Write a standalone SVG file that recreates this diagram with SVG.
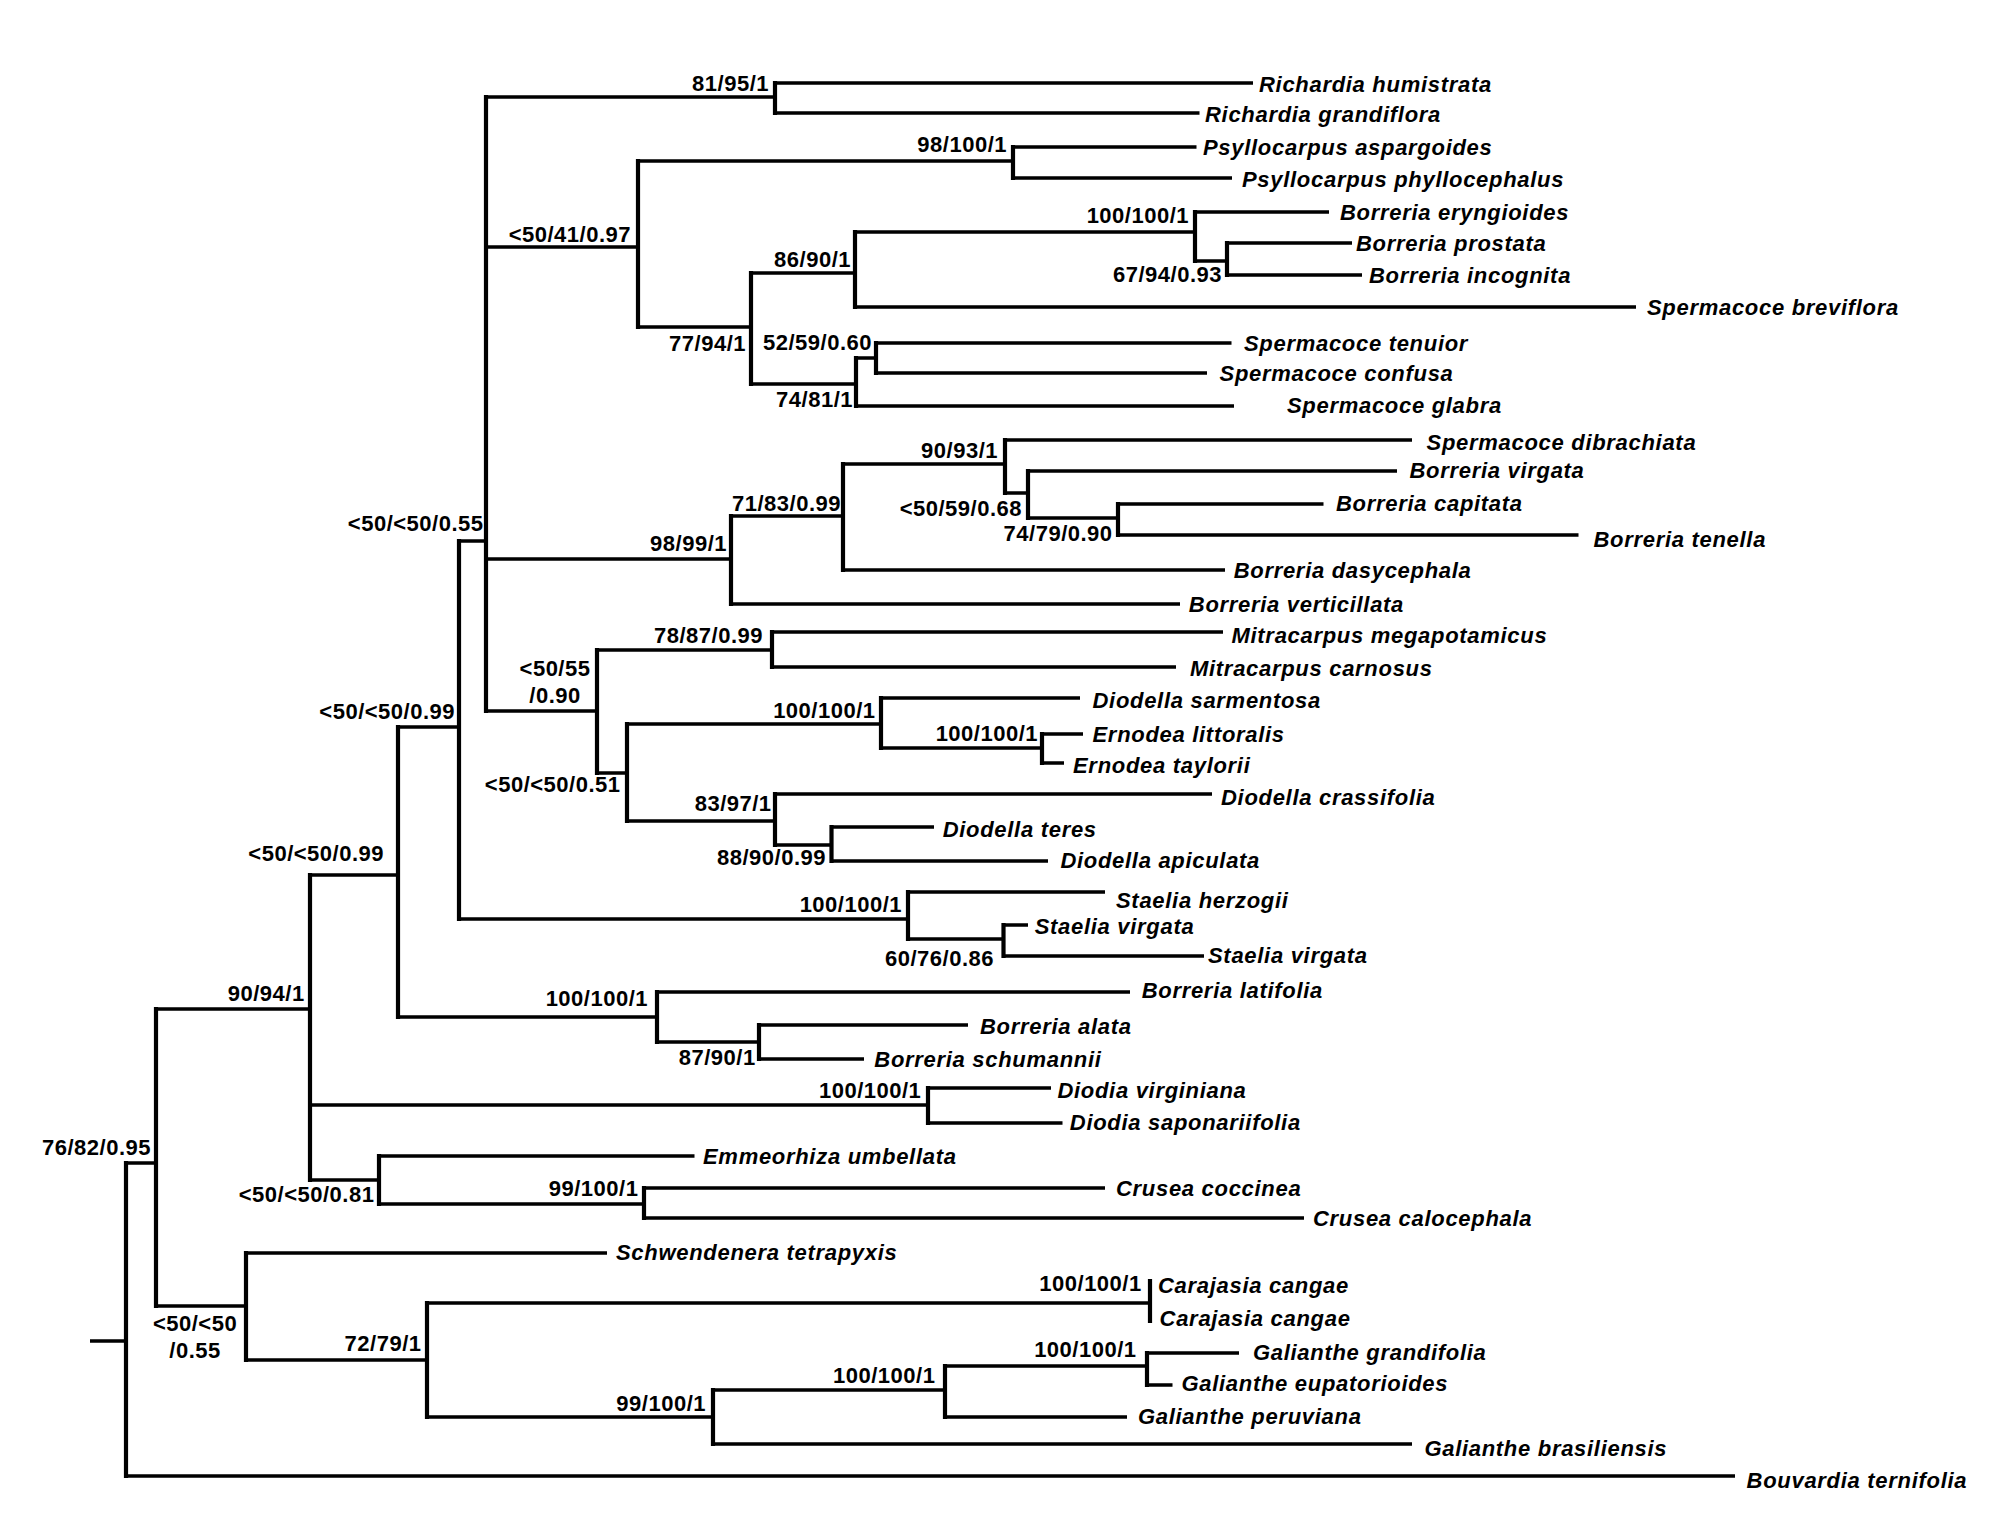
<svg xmlns="http://www.w3.org/2000/svg" width="2012" height="1524" viewBox="0 0 2012 1524">
<style>
.h{stroke:#000;stroke-width:3.5;fill:none}
.v{stroke:#000;stroke-width:4.2;fill:none;stroke-linecap:square}
.sp{font-family:"Liberation Sans",Arial,sans-serif;font-weight:bold;font-style:italic;font-size:22px;letter-spacing:0.7px;fill:#000}
.bs{font-family:"Liberation Sans",Arial,sans-serif;font-weight:bold;font-size:22px;letter-spacing:0.5px;fill:#000;text-anchor:end}
.bm{font-family:"Liberation Sans",Arial,sans-serif;font-weight:bold;font-size:22px;letter-spacing:0.5px;fill:#000;text-anchor:middle}
</style>
<rect width="2012" height="1524" fill="#fff"/>
<g id="connectors">
<path class="h" d="M90 1341H126M126 1163H156M126 1476H1735M156 1009H310M156 1306H246M310 875H398M310 1105H928M310 1180H379M398 727H459M398 1017H657M459 541H486M459 919H908M486 97H775M486 247H638M486 559H731M486 711H597M775 83H1253M775 113H1199.5M638 161H1013M638 327H751M1013 147H1196.5M1013 178H1232M751 273H855M751 384H856M855 232H1195M855 307H1636M1195 212H1329M1195 261H1227M1227 243H1352M1227 275H1362M856 358H876M876 343H1231.5M876 373H1207M856 406H1234M731 516H843M731 604H1180M843 464H1005M843 570H1225M1005 440H1412M1005 493H1028M1028 471H1397M1028 518H1118M1118 504H1323.5M1118 535H1578.5M597 650H772M772 632H1223M772 667H1176M597 773H627M627 724H881M881 698H1080M881 748H1042M1042 734H1083M1042 763H1064M627 821H775M775 794H1212M775 845H831.5M831.5 827H934M831.5 861H1048M908 892H1105M908 939H1003.5M1003.5 925H1028M1003.5 956H1204M657 992H1130M657 1042H759M759 1025H968M759 1059H864M928 1088H1051M928 1123H1062.5M379 1156H694.5M379 1204H644M644 1188H1105M644 1218H1304M246 1253H607M246 1360H427M427 1303H1150M427 1417H713M713 1390H945M713 1444H1412M945 1366H1147M945 1417H1127M1147 1353H1239M1147 1385H1172.5"/>
<path class="v" d="M126 1163V1476M156 1009V1306M310 875V1180M246 1253V1360M398 727V1017M928 1088V1123M379 1156V1204M459 541V919M657 992V1042M486 97V711M908 892V939M775 83V113M638 161V327M731 516V604M597 650V773M1013 147V178M751 273V384M855 232V307M856 358V406M1195 212V261M1227 243V275M876 343V373M843 464V570M1005 440V493M1028 471V518M1118 504V535M772 632V667M627 724V821M881 698V748M1042 734V763M775 794V845M831.5 827V861M1003.5 925V956M759 1025V1059M644 1188V1218M427 1303V1417M1150 1281V1321M713 1390V1444M945 1366V1417M1147 1353V1385"/>
</g>
<g id="taxa">
<g id="t1"><text class="sp" x="1259" y="91.7">Richardia humistrata</text></g>
<g id="t2"><text class="sp" x="1205" y="121.6">Richardia grandiflora</text></g>
<g id="t3"><text class="sp" x="1203" y="155">Psyllocarpus aspargoides</text></g>
<g id="t4"><text class="sp" x="1242" y="186.6">Psyllocarpus phyllocephalus</text></g>
<g id="t5"><text class="sp" x="1340" y="220">Borreria eryngioides</text></g>
<g id="t6"><text class="sp" x="1356" y="250.7">Borreria prostata</text></g>
<g id="t7"><text class="sp" x="1369" y="282.7">Borreria incognita</text></g>
<g id="t8"><text class="sp" x="1647" y="315">Spermacoce breviflora</text></g>
<g id="t9"><text class="sp" x="1244" y="350.7">Spermacoce tenuior</text></g>
<g id="t10"><text class="sp" x="1219.6" y="380.7">Spermacoce confusa</text></g>
<g id="t11"><text class="sp" x="1287" y="413.3">Spermacoce glabra</text></g>
<g id="t12"><text class="sp" x="1426.6" y="450.3">Spermacoce dibrachiata</text></g>
<g id="t13"><text class="sp" x="1409.5" y="478.3">Borreria virgata</text></g>
<g id="t14"><text class="sp" x="1336" y="511">Borreria capitata</text></g>
<g id="t15"><text class="sp" x="1593.5" y="547">Borreria tenella</text></g>
<g id="t16"><text class="sp" x="1233.7" y="578.3">Borreria dasycephala</text></g>
<g id="t17"><text class="sp" x="1188.8" y="611.7">Borreria verticillata</text></g>
<g id="t18"><text class="sp" x="1231.5" y="642.7">Mitracarpus megapotamicus</text></g>
<g id="t19"><text class="sp" x="1190" y="676">Mitracarpus carnosus</text></g>
<g id="t20"><text class="sp" x="1092.5" y="707.7">Diodella sarmentosa</text></g>
<g id="t21"><text class="sp" x="1092.5" y="741.7">Ernodea littoralis</text></g>
<g id="t22"><text class="sp" x="1073" y="772.7">Ernodea taylorii</text></g>
<g id="t23"><text class="sp" x="1221" y="804.6">Diodella crassifolia</text></g>
<g id="t24"><text class="sp" x="942.7" y="837">Diodella teres</text></g>
<g id="t25"><text class="sp" x="1060.4" y="868">Diodella apiculata</text></g>
<g id="t26"><text class="sp" x="1116" y="908">Staelia herzogii</text></g>
<g id="t27"><text class="sp" x="1034.7" y="933.7">Staelia virgata</text></g>
<g id="t28"><text class="sp" x="1208" y="962.7">Staelia virgata</text></g>
<g id="t29"><text class="sp" x="1141.7" y="998">Borreria latifolia</text></g>
<g id="t30"><text class="sp" x="980" y="1033.7">Borreria alata</text></g>
<g id="t31"><text class="sp" x="874.3" y="1067">Borreria schumannii</text></g>
<g id="t32"><text class="sp" x="1057.4" y="1098">Diodia virginiana</text></g>
<g id="t33"><text class="sp" x="1069.8" y="1130.3">Diodia saponariifolia</text></g>
<g id="t34"><text class="sp" x="703" y="1164.2">Emmeorhiza umbellata</text></g>
<g id="t35"><text class="sp" x="1116" y="1195.7">Crusea coccinea</text></g>
<g id="t36"><text class="sp" x="1313" y="1225.7">Crusea calocephala</text></g>
<g id="t37"><text class="sp" x="616" y="1259.7">Schwendenera tetrapyxis</text></g>
<g id="t38"><text class="sp" x="1158" y="1293">Carajasia cangae</text></g>
<g id="t39"><text class="sp" x="1159.6" y="1326.3">Carajasia cangae</text></g>
<g id="t40"><text class="sp" x="1253" y="1359.7">Galianthe grandifolia</text></g>
<g id="t41"><text class="sp" x="1181.5" y="1391.3">Galianthe eupatorioides</text></g>
<g id="t42"><text class="sp" x="1138" y="1423.7">Galianthe peruviana</text></g>
<g id="t43"><text class="sp" x="1424.4" y="1456.3">Galianthe brasiliensis</text></g>
<g id="t44"><text class="sp" x="1746.6" y="1488">Bouvardia ternifolia</text></g>
</g>
<g id="support">
<g id="n1"><text class="bs" x="769" y="90.7">81/95/1</text></g>
<g id="n2"><text class="bs" x="631" y="241.7">&lt;50/41/0.97</text></g>
<g id="n3"><text class="bs" x="1007" y="152.3">98/100/1</text></g>
<g id="n4"><text class="bs" x="1189" y="223.3">100/100/1</text></g>
<g id="n5"><text class="bs" x="851" y="266.7">86/90/1</text></g>
<g id="n6"><text class="bs" x="1222" y="282">67/94/0.93</text></g>
<g id="n7"><text class="bs" x="746" y="351.3">77/94/1</text></g>
<g id="n8"><text class="bs" x="872" y="349.6">52/59/0.60</text></g>
<g id="n9"><text class="bs" x="853" y="406.7">74/81/1</text></g>
<g id="n10"><text class="bs" x="998" y="458">90/93/1</text></g>
<g id="n11"><text class="bs" x="841" y="511.3">71/83/0.99</text></g>
<g id="n12"><text class="bs" x="1022" y="516">&lt;50/59/0.68</text></g>
<g id="n13"><text class="bs" x="1112.6" y="541">74/79/0.90</text></g>
<g id="n14"><text class="bs" x="727" y="551.3">98/99/1</text></g>
<g id="n15"><text class="bs" x="483.5" y="531">&lt;50/&lt;50/0.55</text></g>
<g id="n16"><text class="bs" x="763" y="642.7">78/87/0.99</text></g>
<g id="n17"><text class="bm" x="555" y="676">&lt;50/55</text><text class="bm" x="555" y="702.7">/0.90</text></g>
<g id="n18"><text class="bs" x="875.5" y="717.7">100/100/1</text></g>
<g id="n19"><text class="bs" x="455" y="718.7">&lt;50/&lt;50/0.99</text></g>
<g id="n20"><text class="bs" x="1038" y="740.6">100/100/1</text></g>
<g id="n21"><text class="bs" x="620.5" y="792.2">&lt;50/&lt;50/0.51</text></g>
<g id="n22"><text class="bs" x="771.6" y="810.7">83/97/1</text></g>
<g id="n23"><text class="bs" x="826" y="865.3">88/90/0.99</text></g>
<g id="n24"><text class="bs" x="384" y="860.5">&lt;50/&lt;50/0.99</text></g>
<g id="n25"><text class="bs" x="902" y="912">100/100/1</text></g>
<g id="n26"><text class="bs" x="994" y="965.6">60/76/0.86</text></g>
<g id="n27"><text class="bs" x="304.7" y="1001.2">90/94/1</text></g>
<g id="n28"><text class="bs" x="648" y="1006">100/100/1</text></g>
<g id="n29"><text class="bs" x="755.7" y="1065">87/90/1</text></g>
<g id="n30"><text class="bs" x="921.3" y="1097.5">100/100/1</text></g>
<g id="n31"><text class="bs" x="151" y="1155">76/82/0.95</text></g>
<g id="n32"><text class="bs" x="374.4" y="1201.7">&lt;50/&lt;50/0.81</text></g>
<g id="n33"><text class="bs" x="638.4" y="1195.7">99/100/1</text></g>
<g id="n34"><text class="bs" x="1141.7" y="1291.3">100/100/1</text></g>
<g id="n35"><text class="bm" x="195" y="1331.3">&lt;50/&lt;50</text><text class="bm" x="195" y="1358">/0.55</text></g>
<g id="n36"><text class="bs" x="421.5" y="1351.3">72/79/1</text></g>
<g id="n37"><text class="bs" x="1136.5" y="1357">100/100/1</text></g>
<g id="n38"><text class="bs" x="935.4" y="1383">100/100/1</text></g>
<g id="n39"><text class="bs" x="706" y="1411.3">99/100/1</text></g>
</g>
</svg>
